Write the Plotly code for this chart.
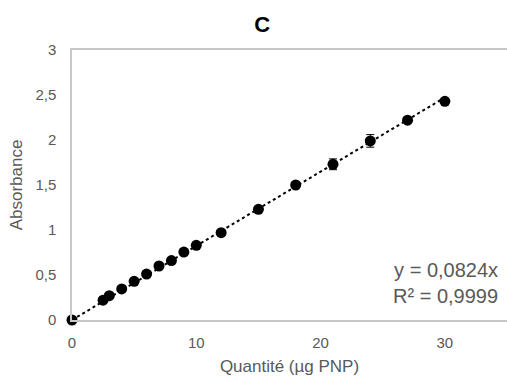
import plotly.graph_objects as go

quantite = [0, 2.5, 3, 4, 5, 6, 7, 8, 9, 10, 12, 15, 18, 21, 24, 27, 30]
absorbance = [0, 0.22, 0.27, 0.345, 0.43, 0.51, 0.60, 0.66, 0.755, 0.83, 0.97, 1.23, 1.50, 1.73, 1.99, 2.22, 2.43]
erreur = [0.005, 0.01, 0.01, 0.01, 0.01, 0.01, 0.01, 0.01, 0.01, 0.01, 0.01, 0.01, 0.015, 0.06, 0.07, 0.025, 0.015]
pente = 0.0824
trend_x = [0, 30]
trend_y = [pente * v for v in trend_x]

gray = "#595959"
font = "Liberation Sans, Arial, sans-serif"

fig = go.Figure()
fig.add_trace(go.Scatter(x=trend_x, y=trend_y, mode="lines",
                         line=dict(color="black", width=2, dash="dot"),
                         showlegend=False, hoverinfo="skip"))
fig.add_trace(go.Scatter(x=quantite, y=absorbance, mode="markers",
                         marker=dict(color="black", size=11), cliponaxis=False,
                         error_y=dict(type="data", array=erreur, color="black", thickness=1, width=4),
                         showlegend=False))

fig.add_annotation(x=0.985, y=0.235, xref="paper", yref="paper", xanchor="right", yanchor="top",
                   text="y = 0,0824x<br>R² = 0,9999", showarrow=False, align="right",
                   font=dict(family=font, size=20, color=gray))

fig.update_layout(
    width=507, height=376,
    margin=dict(l=72, r=0, t=50, b=56, autoexpand=False),
    paper_bgcolor="white", plot_bgcolor="white",
    separators=", ",
    title=dict(text="<b>C</b>", x=0.517, xanchor="center", y=0.935, yanchor="middle",
               font=dict(family=font, size=22, color="black")),
    font=dict(family=font, color=gray, size=15),
    xaxis=dict(range=[0, 35], tickvals=[0, 10, 20, 30], showgrid=False, zeroline=False,
               showline=True, linecolor="#C8C8C8", linewidth=1.5, mirror=True,
               ticks="", automargin=False, ticklabelstandoff=8,
               title=dict(text="Quantité (µg PNP)", standoff=10, font=dict(size=17, color=gray)),
               tickfont=dict(size=15, color=gray)),
    yaxis=dict(range=[0, 3], tickvals=[0, 0.5, 1, 1.5, 2, 2.5, 3], showgrid=False, zeroline=False,
               showline=True, linecolor="#C8C8C8", linewidth=1.5,
               ticks="", tickformat=".1~f", automargin=False, ticklabelstandoff=11,
               title=dict(text="Absorbance", standoff=8, font=dict(size=17, color=gray)),
               tickfont=dict(size=15, color=gray)),
)

fig.write_html("out.html", config={"displayModeBar": False},
               post_script="document.body.style.margin='0px';document.body.style.overflow='hidden';")
